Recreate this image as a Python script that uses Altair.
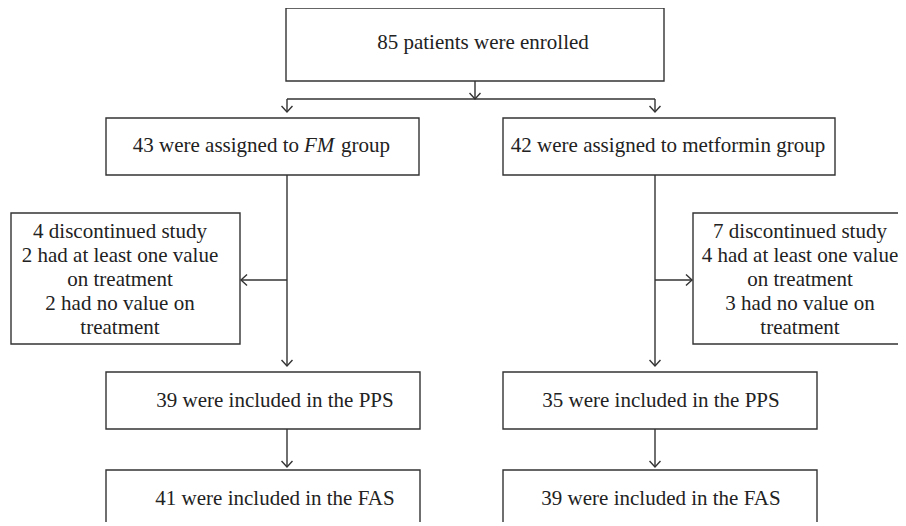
import altair as alt
import pandas as pd

# ---- texts ----
top_text = ["85 patients were enrolled"]
left_side_lines = ["4 discontinued study", "2 had at least one value", "on treatment",
                   "2 had no value on", "treatment"]
right_side_lines = ["7 discontinued study", "4 had at least one value", "on treatment",
                    "3 had no value on", "treatment"]
assign_left_parts = ["43 were assigned to", "FM", "group"]
assign_right = ["42 were assigned to metformin group"]
pps_texts = ["39 were included in the PPS", "35 were included in the PPS"]
fas_texts = ["41 were included in the FAS", "39 were included in the FAS"]

# ---- layout (page pixel coordinates) ----
box_x1 = [286, 106, 503, 11, 693, 106, 503, 106, 503]
box_x2 = [664, 419, 835, 240, 912, 420, 817, 420, 817]
box_y1 = [8, 118, 118, 213, 213, 372, 372, 470, 470]
box_y2 = [81, 175, 175, 344, 344, 429, 429, 560, 560]

seg_x1 = [475, 287, 287, 655, 287, 287, 655, 655, 287, 655]
seg_x2 = [475, 655, 287, 655, 287, 241, 655, 692, 287, 655]
seg_y1 = [81, 99, 99, 99, 175, 280, 175, 280, 429, 429]
seg_y2 = [99, 99, 112, 112, 366, 280, 366, 280, 467, 467]

down_x = [475, 287, 655, 287, 655, 287, 655]
down_y = [99, 112, 112, 366, 366, 467, 467]
left_x, left_y = [241], [280]
right_x, right_y = [692], [280]

side_line_y = [232, 256, 280, 304, 328]

W, H = 890, 514
XD = [8, 8 + W]
YD = [8, 8 + H]

xs = alt.Scale(domain=XD, nice=False, zero=False)
ys = alt.Scale(domain=YD, nice=False, zero=False, reverse=True)

LINE = "#333333"
TXT = "#222222"
FONT = "Liberation Serif"
FS = 21


def X(f="x"):
    return alt.X(f"{f}:Q", scale=xs, axis=None)


def Y(f="y"):
    return alt.Y(f"{f}:Q", scale=ys, axis=None)


boxes = pd.DataFrame({"x": box_x1, "x2": box_x2, "y": box_y1, "y2": box_y2})
box_layer = alt.Chart(boxes).mark_rect(
    fill="white", stroke=LINE, strokeWidth=1.4, clip=True
).encode(x=X(), x2="x2:Q", y=Y(), y2="y2:Q")

segs = pd.DataFrame({"x": seg_x1, "x2": seg_x2, "y": seg_y1, "y2": seg_y2})
seg_layer = alt.Chart(segs).mark_rule(stroke=LINE, strokeWidth=1.4).encode(
    x=X(), x2="x2:Q", y=Y(), y2="y2:Q")


def arrows(xv, yv, shape):
    df = pd.DataFrame({"x": xv, "y": yv})
    return alt.Chart(df).mark_point(
        shape=shape, size=120, filled=False, stroke=LINE, strokeWidth=1.4, opacity=1
    ).encode(x=X(), y=Y())


arr_down = arrows(down_x, down_y, "M-1,-1.1L0,0L1,-1.1")
arr_left = arrows(left_x, left_y, "M1.1,-1L0,0L1.1,1")
arr_right = arrows(right_x, right_y, "M-1.1,-1L0,0L-1.1,1")

# centered texts
c_text = top_text + assign_right + pps_texts + fas_texts + left_side_lines + right_side_lines
c_x = [483, 668, 275, 661, 275, 661] + [120] * 5 + [800] * 5
c_y = [43, 146, 401, 401, 499, 499] + side_line_y + side_line_y
ctext_df = pd.DataFrame({"x": c_x, "y": c_y, "t": c_text})
ctext = alt.Chart(ctext_df).mark_text(
    font=FONT, fontSize=FS, color=TXT, align="center", baseline="middle"
).encode(x=X(), y=Y(), text="t:N")

# "43 were assigned to FM group" with italic FM
p1 = alt.Chart(pd.DataFrame({"x": [299], "y": [146], "t": [assign_left_parts[0]]})).mark_text(
    font=FONT, fontSize=FS, color=TXT, align="right", baseline="middle"
).encode(x=X(), y=Y(), text="t:N")
p2 = alt.Chart(pd.DataFrame({"x": [304], "y": [146], "t": [assign_left_parts[1]]})).mark_text(
    font=FONT, fontSize=FS, color=TXT, align="left", baseline="middle", fontStyle="italic"
).encode(x=X(), y=Y(), text="t:N")
p3 = alt.Chart(pd.DataFrame({"x": [341], "y": [146], "t": [assign_left_parts[2]]})).mark_text(
    font=FONT, fontSize=FS, color=TXT, align="left", baseline="middle"
).encode(x=X(), y=Y(), text="t:N")

chart = alt.layer(
    seg_layer, box_layer, arr_down, arr_left, arr_right, ctext, p1, p2, p3
).properties(
    width=W, height=H, padding=0, autosize=alt.AutoSizeParams(type="none"),
    background="white"
).configure_view(strokeWidth=0)

chart.save("out.html", embed_options={"renderer": "svg", "actions": False})
